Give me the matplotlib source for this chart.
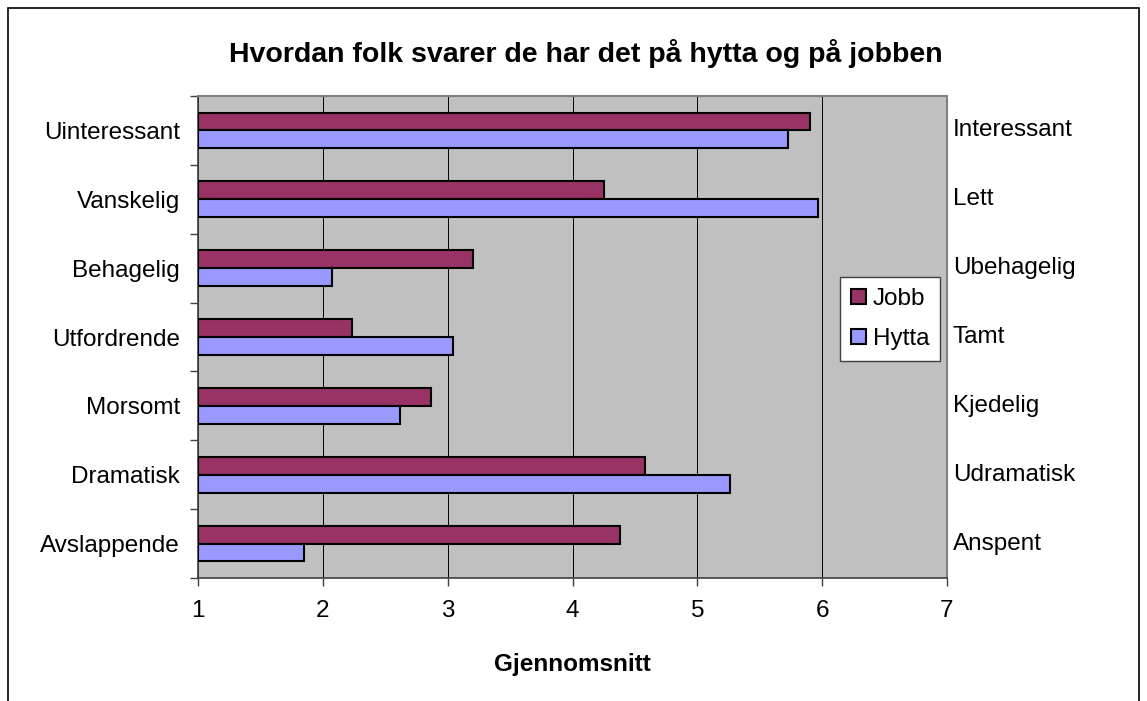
import numpy as np
import matplotlib.pyplot as plt
from matplotlib.patches import Rectangle
from matplotlib.transforms import blended_transform_factory

plt.rcParams['font.family'] = ['Liberation Sans', 'DejaVu Sans']

# data
left_labels = ['Uinteressant', 'Vanskelig', 'Behagelig', 'Utfordrende',
               'Morsomt', 'Dramatisk', 'Avslappende']
right_labels = ['Interessant', 'Lett', 'Ubehagelig', 'Tamt',
                'Kjedelig', 'Udramatisk', 'Anspent']
jobb = [5.90, 4.25, 3.20, 2.23, 2.87, 4.58, 4.38]
hytta = [5.73, 5.97, 2.07, 3.04, 2.62, 5.26, 1.85]
xticks = [1, 2, 3, 4, 5, 6, 7]

W, H = 1147, 701
fs = 17.5
fig = plt.figure(figsize=(W / 100, H / 100), dpi=100)
ax = fig.add_axes([198 / W, 1 - 578 / H, (947 - 198) / W, (578 - 96) / H])
ax.set_facecolor('#C0C0C0')

y = np.arange(len(left_labels))
bh = 0.26
ax.barh(y - bh / 2, np.array(jobb) - 1, left=1, height=bh, color='#993366',
        edgecolor='black', linewidth=1.5, label='Jobb', zorder=3)
ax.barh(y + bh / 2, np.array(hytta) - 1, left=1, height=bh, color='#9999FF',
        edgecolor='black', linewidth=1.5, label='Hytta', zorder=3)

ax.set_xlim(1, 7)
ax.set_ylim(len(left_labels) - 0.5, -0.5)
ax.set_xticks(xticks)
ax.set_xticklabels([str(t) for t in xticks], fontsize=fs)
ax.tick_params(axis='x', length=6, width=1, color='#404040', pad=10)
ax.grid(axis='x', color='black', linewidth=0.7, zorder=1)

# category boundaries get tick marks, names sit between them
ax.set_yticks(np.arange(-0.5, len(left_labels), 1))
ax.set_yticklabels([])
ax.set_yticks(y, minor=True)
ax.set_yticklabels(left_labels, minor=True, fontsize=fs)
ax.tick_params(axis='y', which='major', length=6, width=1, color='#404040')
ax.tick_params(axis='y', which='minor', length=0, pad=13)

for s in ['top', 'right']:
    ax.spines[s].set_color('#808080')
    ax.spines[s].set_linewidth(1.5)
for s in ['left', 'bottom']:
    ax.spines[s].set_color('#404040')
    ax.spines[s].set_linewidth(1.2)

tr = blended_transform_factory(ax.transAxes, ax.transData)
for yi, lab in zip(y, right_labels):
    ax.text(1.008, yi, lab, transform=tr, ha='left', va='center', fontsize=fs)

ax.set_xlabel('Gjennomsnitt', fontsize=fs, fontweight='bold', labelpad=22)

leg = ax.legend(loc='upper left', bbox_to_anchor=(840 / W, 1 - 277 / H),
                bbox_transform=fig.transFigure, fontsize=fs, fancybox=False,
                framealpha=1, edgecolor='#404040', handlelength=0.6,
                handleheight=0.6, handletextpad=0.3, borderpad=0.45,
                labelspacing=0.75, borderaxespad=0)
leg.get_frame().set_linewidth(1.0)

fig.text(586 / W, 1 - 53 / H, 'Hvordan folk svarer de har det på hytta og på jobben',
         ha='center', va='center', fontsize=20.5, fontweight='bold')

fig.patches.append(Rectangle((8 / W, -0.02), (1139 - 8) / W, 1.02 - 8 / H,
                             transform=fig.transFigure, fill=False,
                             edgecolor='black', linewidth=1.2))

fig.savefig('out.png', dpi=100)
